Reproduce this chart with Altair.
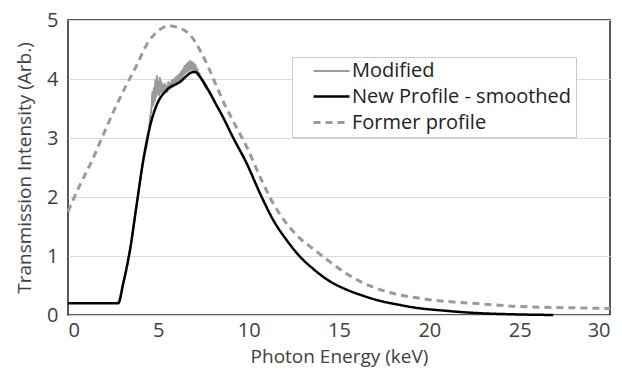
import altair as alt
import pandas as pd

# Former profile (dashed)
former_x = [0, 0.61, 1.35, 1.9, 2.55, 3.2, 3.8, 4.35, 5.0, 5.64, 6.2, 6.57, 7.0, 7.3, 7.77, 8.23, 8.7,
            9.15, 9.89, 10.63, 11.36, 12.1, 12.84, 13.58, 14.5, 15.42, 16.3, 17.27, 18.2, 19.1, 20.0,
            20.96, 22.8, 24.6, 26.5, 28.3, 30]
former_y = [1.75, 2.17, 2.63, 3.02, 3.47, 3.88, 4.23, 4.58, 4.82, 4.90, 4.86, 4.80, 4.65, 4.49, 4.20, 3.87, 3.55,
            3.28, 2.85, 2.34, 1.89, 1.55, 1.30, 1.12, 0.90, 0.70, 0.55, 0.43, 0.35, 0.30, 0.26,
            0.23, 0.19, 0.15, 0.13, 0.12, 0.11]

# New profile - smoothed (black)
new_x = [0, 2.78, 3.06, 3.43, 3.8, 4.17, 4.54, 4.91, 5.46, 6.2, 6.84, 7.05, 7.3, 7.77, 8.23, 8.5,
         9.15, 9.89, 10.63, 11.36, 12.1, 12.84, 13.58, 14.5, 15.42, 16.3, 17.27, 18.2, 19.1,
         20.96, 22.8, 24.6, 26.86]
new_y = [0.2, 0.2, 0.54, 1.10, 1.87, 2.63, 3.20, 3.56, 3.81, 3.95, 4.11, 4.12, 4.04, 3.81, 3.55, 3.40,
         3.00, 2.57, 2.06, 1.61, 1.27, 0.99, 0.78, 0.57, 0.43, 0.33, 0.24, 0.18, 0.13,
         0.07, 0.03, 0.012, 0.0]

# Modified (grey, noisy section)
mod_x = [2.78, 3.06, 3.43, 3.8, 4.17, 4.45, 4.55, 4.62, 4.68, 4.72, 4.76, 4.80, 4.84, 4.88, 4.92, 4.96,
         5.00, 5.04, 5.08, 5.12, 5.16, 5.20, 5.25, 5.30, 5.35, 5.40, 5.45, 5.50, 5.55, 5.60, 5.65,
         5.70, 5.75, 5.80, 5.85, 5.90, 5.95, 6.00, 6.05, 6.10, 6.15, 6.20, 6.25, 6.30, 6.35, 6.40,
         6.45, 6.50, 6.55, 6.60, 6.65, 6.70, 6.75, 6.80, 6.85, 6.90, 6.95, 7.00, 7.05, 7.10, 7.15,
         7.20, 7.27, 7.35, 7.45, 7.60, 7.77, 8.23]
mod_y = [0.2, 0.54, 1.10, 1.87, 2.63, 3.05, 3.35, 3.50, 3.78, 3.55, 3.85, 3.62, 3.98, 3.70, 4.05, 3.75,
         3.95, 3.72, 4.02, 3.78, 3.96, 3.74, 3.90, 3.76, 3.92, 3.80, 3.88, 3.78, 3.95, 3.83, 3.93,
         3.85, 3.98, 3.87, 3.99, 3.90, 4.03, 3.92, 4.05, 3.96, 4.08, 3.98, 4.12, 4.02, 4.16, 4.06,
         4.22, 4.10, 4.25, 4.12, 4.28, 4.14, 4.31, 4.16, 4.29, 4.14, 4.27, 4.12, 4.24, 4.10, 4.18,
         4.06, 4.10, 4.00, 3.96, 3.86, 3.81, 3.55]

series_names = ["Modified", "New Profile - smoothed", "Former profile"]

df = pd.concat([
    pd.DataFrame({"x": mod_x, "y": mod_y, "s": series_names[0]}),
    pd.DataFrame({"x": new_x, "y": new_y, "s": series_names[1]}),
    pd.DataFrame({"x": former_x, "y": former_y, "s": series_names[2]}),
])

FONT = "Open Sans"
TXT = "#404040"
NBSP = "\u00a0" * 4

legend = alt.Legend(
    title=None, orient="none", legendX=224, legendY=37,
    symbolType="M-2,0L2,0", symbolSize=324, symbolStrokeWidth=2.5,
    labelFontSize=20, labelFont=FONT, labelColor="#222222", labelOffset=10,
    labelExpr="datum.label + '" + NBSP + "'",
    fillColor="white", strokeColor="#c8c8c8", padding=4, rowPadding=5,
    symbolOffset=25, labelLimit=400,
)

base = alt.Chart(df).encode(
    x=alt.X("x:Q", scale=alt.Scale(domain=[0, 30], nice=False),
            axis=alt.Axis(values=[0, 5, 10, 15, 20, 25, 30], title="Photon Energy (keV)",
                          grid=False, domain=False, ticks=False, labelFontSize=20,
                          labelFont=FONT, labelColor=TXT, labelPadding=5,
                          titleFontSize=19, titleFont=FONT, titleColor=TXT,
                          titleFontWeight="normal", titlePadding=7)),
    y=alt.Y("y:Q", scale=alt.Scale(domain=[0, 5], nice=False),
            axis=alt.Axis(values=[0, 1, 2, 3, 4, 5], title="Transmission Intensity (Arb.)",
                          grid=True, gridColor="#d9d9d9", gridWidth=1.2, domain=False,
                          ticks=False, labelFontSize=20, labelFont=FONT, labelColor=TXT,
                          labelPadding=10, titleFontSize=19, titleFont=FONT, titleColor=TXT,
                          titleFontWeight="normal", titlePadding=12)),
    detail="s:N",
    order="x:Q",
)

lines = base.mark_line(interpolate="monotone").encode(
    color=alt.Color("s:N", scale=alt.Scale(domain=series_names,
                                           range=["#9a9a9a", "#000000", "#9a9a9a"]),
                    legend=legend),
    strokeDash=alt.StrokeDash("s:N", scale=alt.Scale(domain=series_names,
                                                     range=[[1, 0], [1, 0], [7, 5]]),
                              legend=legend),
    strokeWidth=alt.StrokeWidth("s:N", scale=alt.Scale(domain=series_names,
                                                       range=[2, 3, 2]),
                                legend=legend),
)

chart = alt.layer(
    lines.transform_filter(alt.datum.s == "Former profile"),
    lines.transform_filter(alt.datum.s == "Modified"),
    lines.transform_filter(alt.datum.s == "New Profile - smoothed"),
).properties(
    width=542, height=295,
    autosize=alt.AutoSizeParams(type="none"),
    padding={"left": 68, "top": 20, "right": 12, "bottom": 56},
    background="white",
).configure_view(stroke="#222222", strokeWidth=1.5)

chart.save("out.html", embed_options={"renderer": "svg", "actions": False})
